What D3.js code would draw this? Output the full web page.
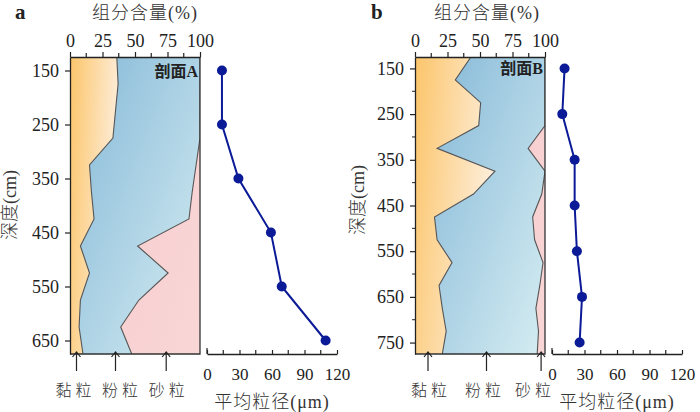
<!DOCTYPE html>
<html>
<head>
<meta charset="utf-8">
<script src="https://cdn.jsdelivr.net/npm/d3@7"></script>
<style>
  body { margin: 0; background: #fff; }
  svg { display: block; }
  text { font-family: "Liberation Serif", "Noto Sans CJK SC", serif; fill: #222; }
  .cjk { font-family: "Liberation Serif", "Noto Sans CJK SC", serif; fill: #333; font-weight: 300; }
</style>
</head>
<body>
<script>
// section A - component content (%) at sample depths (cm)
const depthA = [125, 175, 225, 275, 325, 375, 425, 475, 525, 575, 625, 675];
const clayA  = [36, 37, 35, 33, 15, 16.5, 18.5, 8, 15, 8, 7, 10];
const siltA  = [64, 63, 65, 67, 82, 77.5, 73, 44, 60.5, 45, 32, 37.5];
const sandA  = [0, 0, 0, 0, 3, 6, 8.5, 48, 24.5, 47, 61, 52.5];
// section A - mean grain size (um)
const grainDepthA = [150, 250, 350, 450, 550, 650];
const grainA      = [13.8, 13.8, 29, 59, 69, 109.5];

// section B
const depthB = [125, 175, 225, 275, 325, 375, 425, 475, 525, 575, 625, 675, 725, 775];
const clayB  = [43, 31, 50.5, 49, 17, 61.5, 45, 15, 17, 28.5, 18.5, 21, 24, 21];
const siltB  = [57, 69, 49.5, 51, 70, 38.5, 52.5, 75.5, 75, 70, 77.5, 72, 71, 73];
const sandB  = [0, 0, 0, 0, 13, 0, 2.5, 9.5, 8, 1.5, 4, 7, 5, 6];
const grainDepthB = [150, 250, 350, 450, 550, 650, 750];
const grainB      = [11.6, 9.5, 20.9, 20.9, 23, 27.7, 25.5];

// ticks and labels
const pctTicks = [0, 25, 50, 75, 100];
const grainTicks = [0, 30, 60, 90, 120];
const depthTicksA = [150, 250, 350, 450, 550, 650];
const depthTicksB = [150, 250, 350, 450, 550, 650, 750];
const fractionNames = ['黏粒', '粉粒', '砂粒'];

const width = 700, height = 412;
const svg = d3.select('body').append('svg')
    .attr('width', width).attr('height', height);

const defs = svg.append('defs');
function linGrad(id, x1, y1, x2, y2, stops) {
    const g = defs.append('linearGradient').attr('id', id)
        .attr('x1', x1).attr('y1', y1).attr('x2', x2).attr('y2', y2);
    stops.forEach(s => g.append('stop').attr('offset', s[0]).attr('stop-color', s[1]));
}
linGrad('gClay', '0%', '0%', '100%', '30%', [['0%', '#fcc56a'], ['100%', '#fdeedb']]);
linGrad('gSilt', '0%', '0%', '100%', '100%', [['0%', '#86b9d8'], ['100%', '#d6edf2']]);
linGrad('gSand', '0%', '0%', '100%', '100%', [['0%', '#f7cdd0'], ['100%', '#f9d6d6']]);

const fills = ['url(#gClay)', 'url(#gSilt)', 'url(#gSand)'];

function drawPanel(o) {
    const g = svg.append('g');
    const x = d3.scaleLinear().domain([0, 100]).range([o.left, o.left + 130]);
    const y = d3.scaleLinear().domain(o.yDomain).range([57, 354]);
    const gx = d3.scaleLinear().domain([0, 120]).range([o.gLeft, o.gLeft + 130]);

    const rows = o.depth.map((d, i) => ({depth: d, clay: o.clay[i], silt: o.silt[i], sand: o.sand[i]}));
    const series = d3.stack().keys(['clay', 'silt', 'sand'])(rows);

    const clipId = 'clip' + o.name;
    defs.append('clipPath').attr('id', clipId).append('rect')
        .attr('x', x(0)).attr('y', y.range()[0])
        .attr('width', x(100) - x(0)).attr('height', y.range()[1] - y.range()[0]);

    const area = d3.area()
        .y(d => y(d.data.depth))
        .x0(d => x(d[0]))
        .x1(d => x(d[1]));

    const plot = g.append('g').attr('clip-path', 'url(#' + clipId + ')');
    plot.selectAll('.layer')
        .data(series)
        .join('path')
        .attr('class', 'layer')
        .attr('fill', (d, i) => fills[i])
        .attr('d', area);

    const line = d3.line().x(d => x(d[1])).y(d => y(d.data.depth));
    plot.selectAll('.bound')
        .data(series.slice(0, 2))
        .join('path')
        .attr('class', 'bound')
        .attr('fill', 'none')
        .attr('stroke', '#555')
        .attr('stroke-width', 1.1)
        .attr('d', line);

    // frame right and bottom
    g.append('path')
        .attr('d', `M${x(100)},${y.range()[0]}V${y.range()[1]}H${x(0)}`)
        .attr('fill', 'none').attr('stroke', '#333').attr('stroke-width', 1.3);

    // top axis
    const top = g.append('g').attr('transform', `translate(0,${y.range()[0]})`)
        .call(d3.axisTop(x).tickValues(pctTicks).tickSize(5).tickPadding(5).tickSizeOuter(0));
    top.append('g').selectAll('line')
        .data(d3.range(12.5, 100, 25))
        .join('line')
        .attr('x1', d => x(d)).attr('x2', d => x(d))
        .attr('y1', 0).attr('y2', -4).attr('stroke', '#222');

    // left axis
    const leftAx = g.append('g').attr('transform', `translate(${x(0)},0)`)
        .call(d3.axisLeft(y).tickValues(o.depthTicks).tickSize(5).tickPadding(6).tickSizeOuter(0));
    if (o.minorDepth) {
        leftAx.append('g').selectAll('line')
            .data(o.depthTicks.slice(0, -1).map(d => d + 50))
            .join('line')
            .attr('y1', d => y(d)).attr('y2', d => y(d))
            .attr('x1', 0).attr('x2', -3).attr('stroke', '#222');
    }
    [top, leftAx].forEach(a => {
        a.selectAll('.domain').attr('stroke', '#222').attr('stroke-width', 1.3);
        a.selectAll('.tick line').attr('stroke', '#222').attr('stroke-width', 1.2);
        a.selectAll('text').style('font-size', '18px').attr('fill', '#222')
            .style('font-family', '"Liberation Serif", serif');
    });
    top.selectAll('line').attr('stroke-width', 1.2);

    // titles
    g.append('text').attr('x', o.titleX).attr('y', 19)
        .attr('text-anchor', 'middle').attr('class', 'cjk')
        .style('font-size', '18px').style('letter-spacing', '1px')
        .text('组分含量(%)');
    g.append('text').attr('x', o.letterX).attr('y', 19)
        .style('font-size', '21px').style('font-weight', 'bold').attr('fill', '#111')
        .text(o.letter);
    g.append('text').attr('x', x(100) - 2).attr('y', y(150) + 6)
        .attr('text-anchor', 'end')
        .style('font-family', '"Liberation Serif", "Noto Sans CJK SC", serif')
        .style('font-size', '16px').style('font-weight', 'bold').attr('fill', '#222')
        .text('剖面' + o.name);
    g.append('text')
        .attr('transform', `translate(${o.yTitleX},${o.yTitleY}) rotate(-90)`)
        .attr('text-anchor', 'middle').attr('class', 'cjk')
        .style('font-size', '18px')
        .text('深度(cm)');

    // arrows and fraction labels
    const arr = g.append('g');
    o.arrows.forEach((p, i) => {
        const ax = x(p);
        arr.append('path')
            .attr('d', `M${ax},371V352M${ax - 4},357L${ax},352L${ax + 4},357`)
            .attr('fill', 'none').attr('stroke', '#222').attr('stroke-width', 1.2);
        arr.append('text').attr('x', x(o.labels[i]) + 2).attr('y', 396)
            .attr('text-anchor', 'middle').attr('class', 'cjk')
            .style('font-size', '16px').style('letter-spacing', '4px')
            .text(fractionNames[i]);
    });

    // grain size
    const gs = g.append('g');
    const pts = o.grainDepth.map((d, i) => ({depth: d, v: o.grain[i]}));
    gs.append('path').datum(pts)
        .attr('fill', 'none').attr('stroke', '#0b1a96').attr('stroke-width', 2)
        .attr('d', d3.line().x(d => gx(d.v)).y(d => y(d.depth)));
    gs.selectAll('circle').data(pts).join('circle')
        .attr('cx', d => gx(d.v)).attr('cy', d => y(d.depth)).attr('r', 5)
        .attr('fill', '#0b1a96');

    const bot = gs.append('g').attr('transform', `translate(0,${y.range()[1]})`)
        .call(d3.axisBottom(gx).tickValues(grainTicks).tickSize(-4).tickPadding(14).tickSizeOuter(0));
    bot.append('g').selectAll('line')
        .data(d3.range(15, 120, 30))
        .join('line')
        .attr('x1', d => gx(d)).attr('x2', d => gx(d))
        .attr('y1', 0).attr('y2', -4).attr('stroke', '#222').attr('stroke-width', 1.2);
    bot.append('line').attr('x1', gx(0)).attr('x2', gx(0)).attr('y1', 0).attr('y2', -6)
        .attr('stroke', '#222').attr('stroke-width', 1.2);
    bot.selectAll('.domain').attr('stroke', '#222').attr('stroke-width', 1.3);
    bot.selectAll('.tick line').attr('stroke', '#222').attr('stroke-width', 1.2);
    bot.selectAll('text').style('font-size', '17px').attr('fill', '#222')
        .style('font-family', '"Liberation Serif", serif');
    gs.append('text').attr('x', gx(60)).attr('y', 408)
        .attr('text-anchor', 'middle').attr('class', 'cjk')
        .style('font-size', '18px').style('letter-spacing', '1px')
        .text('平均粒径(μm)');
}

drawPanel({
    name: 'A', letter: 'a', left: 70, gLeft: 207, yDomain: [125, 675],
    depth: depthA, clay: clayA, silt: siltA, sand: sandA,
    grainDepth: grainDepthA, grain: grainA, depthTicks: depthTicksA, minorDepth: false,
    titleX: 145, letterX: 15, yTitleX: 16, yTitleY: 205,
    arrows: [5, 35, 74], labels: [2.7, 38.5, 74.4]
});
drawPanel({
    name: 'B', letter: 'b', left: 415, gLeft: 552, yDomain: [125, 775],
    depth: depthB, clay: clayB, silt: siltB, sand: sandB,
    grainDepth: grainDepthB, grain: grainB, depthTicks: depthTicksB, minorDepth: true,
    titleX: 487, letterX: 371, yTitleX: 364, yTitleY: 200,
    arrows: [10, 55, 97], labels: [10.8, 52.3, 90.7]
});
</script>
</body>
</html>
